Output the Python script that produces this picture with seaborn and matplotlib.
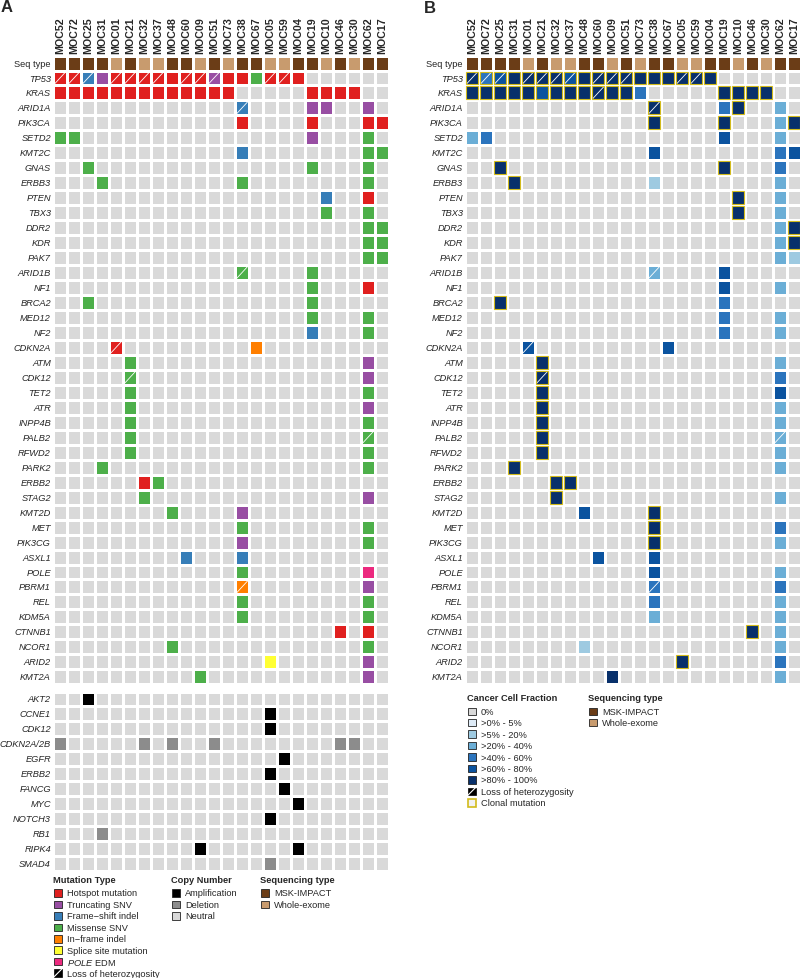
import pandas as pd
import seaborn as sns
import matplotlib.pyplot as plt
from matplotlib.colors import ListedColormap
from matplotlib.patches import Rectangle

samples = ['MOC52', 'MOC72', 'MOC25', 'MOC31', 'MOC01', 'MOC21', 'MOC32', 'MOC37',
           'MOC48', 'MOC60', 'MOC09', 'MOC51', 'MOC73', 'MOC38', 'MOC67', 'MOC05',
           'MOC59', 'MOC04', 'MOC19', 'MOC10', 'MOC46', 'MOC30', 'MOC62', 'MOC17']

# sequencing type per sample (groups of four): M = MSK-IMPACT, W = whole-exome
seq_type = 'MMMM WMWW MMWM WMMW WMMW MWMM'

genes = ['TP53', 'KRAS', 'ARID1A', 'PIK3CA', 'SETD2', 'KMT2C', 'GNAS', 'ERBB3', 'PTEN',
         'TBX3', 'DDR2', 'KDR', 'PAK7', 'ARID1B', 'NF1', 'BRCA2', 'MED12', 'NF2', 'CDKN2A',
         'ATM', 'CDK12', 'TET2', 'ATR', 'INPP4B', 'PALB2', 'RFWD2', 'PARK2', 'ERBB2', 'STAG2',
         'KMT2D', 'MET', 'PIK3CG', 'ASXL1', 'POLE', 'PBRM1', 'REL', 'KDM5A', 'CTNNB1',
         'NCOR1', 'ARID2', 'KMT2A']

# panel A mutations: H hotspot, T truncating, F frame-shift, M missense, I in-frame,
# S splice site, P POLE EDM; lower case = plus loss of heterozygosity
mut_a = {
    'TP53':   'hhfT hhhh Hhht HHMh hH.. ....',
    'KRAS':   'HHHH HHHH HHHH H... ..HH HH..',
    'ARID1A': '.... .... .... .f.. ..TT ..T.',
    'PIK3CA': '.... .... .... .H.. ..H. ..HH',
    'SETD2':  'MM.. .... .... .... ..T. ..M.',
    'KMT2C':  '.... .... .... .F.. .... ..MM',
    'GNAS':   '..M. .... .... .... ..M. ..M.',
    'ERBB3':  '...M .... .... .M.. .... ..M.',
    'PTEN':   '.... .... .... .... ...F ..H.',
    'TBX3':   '.... .... .... .... ...M ..M.',
    'DDR2':   '.... .... .... .... .... ..MM',
    'KDR':    '.... .... .... .... .... ..MM',
    'PAK7':   '.... .... .... .... .... ..MM',
    'ARID1B': '.... .... .... .m.. ..M. ....',
    'NF1':    '.... .... .... .... ..M. ..H.',
    'BRCA2':  '..M. .... .... .... ..M. ....',
    'MED12':  '.... .... .... .... ..M. ..M.',
    'NF2':    '.... .... .... .... ..F. ..M.',
    'CDKN2A': '.... h... .... ..I. .... ....',
    'ATM':    '.... .M.. .... .... .... ..T.',
    'CDK12':  '.... .m.. .... .... .... ..T.',
    'TET2':   '.... .M.. .... .... .... ..M.',
    'ATR':    '.... .M.. .... .... .... ..T.',
    'INPP4B': '.... .M.. .... .... .... ..M.',
    'PALB2':  '.... .M.. .... .... .... ..m.',
    'RFWD2':  '.... .M.. .... .... .... ..M.',
    'PARK2':  '...M .... .... .... .... ..M.',
    'ERBB2':  '.... ..HM .... .... .... ....',
    'STAG2':  '.... ..M. .... .... .... ..T.',
    'KMT2D':  '.... .... M... .T.. .... ....',
    'MET':    '.... .... .... .M.. .... ..M.',
    'PIK3CG': '.... .... .... .T.. .... ..M.',
    'ASXL1':  '.... .... .F.. .F.. .... ....',
    'POLE':   '.... .... .... .M.. .... ..P.',
    'PBRM1':  '.... .... .... .i.. .... ..T.',
    'REL':    '.... .... .... .M.. .... ..M.',
    'KDM5A':  '.... .... .... .M.. .... ..M.',
    'CTNNB1': '.... .... .... .... .... H.H.',
    'NCOR1':  '.... .... M... .... .... ..M.',
    'ARID2':  '.... .... .... ...S .... ..T.',
    'KMT2A':  '.... .... ..M. .... .... ..T.',
}

cna_genes = ['AKT2', 'CCNE1', 'CDK12', 'CDKN2A/2B', 'EGFR', 'ERBB2', 'FANCG', 'MYC',
             'NOTCH3', 'RB1', 'RIPK4', 'SMAD4']
# A amplification, D deletion
cna_a = {
    'AKT2':      '..A. .... .... .... .... ....',
    'CCNE1':     '.... .... .... ...A .... ....',
    'CDK12':     '.... .... .... ...A .... ....',
    'CDKN2A/2B': 'D... ..D. D..D .... .... DD..',
    'EGFR':      '.... .... .... .... A... ....',
    'ERBB2':     '.... .... .... ...A .... ....',
    'FANCG':     '.... .... .... .... A... ....',
    'MYC':       '.... .... .... .... .A.. ....',
    'NOTCH3':    '.... .... .... ...A .... ....',
    'RB1':       '...D .... .... .... .... ....',
    'RIPK4':     '.... .... ..A. .... .A.. ....',
    'SMAD4':     '.... .... .... ...D .... ....',
}

# panel B cancer cell fraction bin (1..6 = >0-5%, >5-20%, >20-40%, >40-60%, >60-80%, >80-100%)
ccf_b = {
    'TP53':   '6456 6665 6666 6666 66.. ....',
    'KRAS':   '6666 6566 6666 4... ..66 66..',
    'ARID1A': '.... .... .... .6.. ..46 ..3.',
    'PIK3CA': '.... .... .... .6.. ..6. ..36',
    'SETD2':  '34.. .... .... .... ..5. ..3.',
    'KMT2C':  '.... .... .... .5.. .... ..45',
    'GNAS':   '..6. .... .... .... ..6. ..4.',
    'ERBB3':  '...6 .... .... .2.. .... ..3.',
    'PTEN':   '.... .... .... .... ...6 ..3.',
    'TBX3':   '.... .... .... .... ...6 ..3.',
    'DDR2':   '.... .... .... .... .... ..36',
    'KDR':    '.... .... .... .... .... ..36',
    'PAK7':   '.... .... .... .... .... ..32',
    'ARID1B': '.... .... .... .3.. ..5. ....',
    'NF1':    '.... .... .... .... ..5. ..3.',
    'BRCA2':  '..6. .... .... .... ..4. ....',
    'MED12':  '.... .... .... .... ..4. ..3.',
    'NF2':    '.... .... .... .... ..4. ..3.',
    'CDKN2A': '.... 5... .... ..5. .... ....',
    'ATM':    '.... .6.. .... .... .... ..3.',
    'CDK12':  '.... .6.. .... .... .... ..4.',
    'TET2':   '.... .6.. .... .... .... ..5.',
    'ATR':    '.... .6.. .... .... .... ..3.',
    'INPP4B': '.... .6.. .... .... .... ..3.',
    'PALB2':  '.... .6.. .... .... .... ..3.',
    'RFWD2':  '.... .6.. .... .... .... ..3.',
    'PARK2':  '...6 .... .... .... .... ..3.',
    'ERBB2':  '.... ..66 .... .... .... ....',
    'STAG2':  '.... ..6. .... .... .... ..3.',
    'KMT2D':  '.... .... 5... .6.. .... ....',
    'MET':    '.... .... .... .6.. .... ..4.',
    'PIK3CG': '.... .... .... .6.. .... ..3.',
    'ASXL1':  '.... .... .5.. .5.. .... ....',
    'POLE':   '.... .... .... .5.. .... ..3.',
    'PBRM1':  '.... .... .... .4.. .... ..4.',
    'REL':    '.... .... .... .4.. .... ..3.',
    'KDM5A':  '.... .... .... .3.. .... ..3.',
    'CTNNB1': '.... .... .... .... .... 6.3.',
    'NCOR1':  '.... .... 2... .... .... ..3.',
    'ARID2':  '.... .... .... ...6 .... ..4.',
    'KMT2A':  '.... .... ..6. .... .... ..3.',
}

# clonal mutations in panel B
clonal_b = {
    'TP53':   'cccc cccc cccc cccc cc.. ....',
    'KRAS':   'cccc cccc cccc .... ..cc cc..',
    'ARID1A': '.... .... .... .c.. ...c ....',
    'PIK3CA': '.... .... .... .c.. ..c. ...c',
    'GNAS':   '..c. .... .... .... ..c. ....',
    'ERBB3':  '...c .... .... .... .... ....',
    'PTEN':   '.... .... .... .... ...c ....',
    'TBX3':   '.... .... .... .... ...c ....',
    'DDR2':   '.... .... .... .... .... ...c',
    'KDR':    '.... .... .... .... .... ...c',
    'BRCA2':  '..c. .... .... .... .... ....',
    'ATM':    '.... .c.. .... .... .... ....',
    'CDK12':  '.... .c.. .... .... .... ....',
    'TET2':   '.... .c.. .... .... .... ....',
    'ATR':    '.... .c.. .... .... .... ....',
    'INPP4B': '.... .c.. .... .... .... ....',
    'PALB2':  '.... .c.. .... .... .... ....',
    'RFWD2':  '.... .c.. .... .... .... ....',
    'PARK2':  '...c .... .... .... .... ....',
    'ERBB2':  '.... ..cc .... .... .... ....',
    'STAG2':  '.... ..c. .... .... .... ....',
    'KMT2D':  '.... .... .... .c.. .... ....',
    'MET':    '.... .... .... .c.. .... ....',
    'PIK3CG': '.... .... .... .c.. .... ....',
    'CTNNB1': '.... .... .... .... .... c...',
    'ARID2':  '.... .... .... ...c .... ....',
}

loh_b = {
    'TP53': ['MOC52', 'MOC72', 'MOC25', 'MOC01', 'MOC21', 'MOC32', 'MOC37', 'MOC60',
             'MOC09', 'MOC51', 'MOC05', 'MOC59'],
    'KRAS': ['MOC60'],
    'ARID1A': ['MOC38'],
    'ARID1B': ['MOC38'],
    'CDKN2A': ['MOC01'],
    'CDK12': ['MOC21'],
    'PALB2': ['MOC62'],
    'PBRM1': ['MOC38'],
}

mut_labels = ['Hotspot mutation', 'Truncating SNV', 'Frame\u2212shift indel', 'Missense SNV',
              'In\u2212frame indel', 'Splice site mutation', r'$\mathit{POLE}$ EDM']
ccf_labels = ['0%', '>0% - 5%', '>5% - 20%', '>20% - 40%', '>40% - 60%', '>60% - 80%',
              '>80% - 100%']

NEUTRAL = '#d9d9d9'
MSK, WES = '#6b3d17', '#c89b6e'
mut_colors = ['#e0201f', '#984ea3', '#377eb8', '#4daf4a', '#ff7f00', '#ffff33', '#ec2a7f']
cna_colors = ['#000000', '#8c8c8c']
ccf_colors = ['#deebf7', '#9ecae1', '#6baed6', '#2b74bd', '#0b539f', '#08306b']
CLONAL = '#d2bb1c'


def split(s):
    s = s.replace(' ', '')
    assert len(s) == len(samples)
    return list(s)


sns.set_style('white')
plt.rcParams['font.family'] = ['Liberation Sans', 'DejaVu Sans']
plt.rcParams['mathtext.fontset'] = 'custom'
plt.rcParams['mathtext.it'] = 'Liberation Sans:italic'
plt.rcParams['mathtext.rm'] = 'Liberation Sans'

W, H = 800, 979
fig = plt.figure(figsize=(W / 100, H / 100), dpi=100)

ROW, COL = 14.97, 14.0
GAP = 1.8
gx = GAP * 100 / 72 / 2 / COL
gy = GAP * 100 / 72 / 2 / ROW


def px_axes(left, top, width, height):
    return fig.add_axes([left / W, 1 - (top + height) / H, width / W, height / H])


def grid(ax, df, colors, top_labels):
    sns.heatmap(df, ax=ax, cmap=ListedColormap(colors), vmin=-0.5, vmax=len(colors) - 0.5,
                cbar=False, linewidths=GAP, linecolor='white',
                xticklabels=top_labels, yticklabels=True)
    ax.set_xlabel('')
    ax.set_ylabel('')
    ax.tick_params(length=0, pad=1.5)
    if top_labels:
        ax.xaxis.tick_top()
        plt.setp(ax.get_xticklabels(), rotation=90, fontsize=7.7, fontweight='bold')
    plt.setp(ax.get_yticklabels(), rotation=0, fontsize=6.7)
    for lab in ax.get_yticklabels():
        if lab.get_text() != 'Seq type':
            lab.set_style('italic')


def slash(ax, i, j):
    ax.plot([j + gx, j + 1 - gx], [i + 1 - gy, i + gy], color='white', lw=0.6,
            solid_capstyle='butt')


seq_row = split(seq_type)

# ---- panel A ----
mut_code = {'.': 0, 'H': 1, 'T': 2, 'F': 3, 'M': 4, 'I': 5, 'S': 6, 'P': 7}
rows_a = [[8 if c == 'M' else 9 for c in seq_row]]
loh_a = []
for i, g in enumerate(genes):
    cells = split(mut_a[g])
    rows_a.append([mut_code[c.upper()] for c in cells])
    loh_a += [(i + 1, j) for j, c in enumerate(cells) if c.islower()]
df_a = pd.DataFrame(rows_a, index=['Seq type'] + genes, columns=samples)

top = 79 - ROW * 1.5
ax_a = px_axes(53, top, COL * len(samples), ROW * len(df_a))
grid(ax_a, df_a, [NEUTRAL] + mut_colors + [MSK, WES], True)
for i, j in loh_a:
    slash(ax_a, i, j)

cna_code = {'.': 0, 'A': 1, 'D': 2}
df_cna = pd.DataFrame([[cna_code[c] for c in split(cna_a[g])] for g in cna_genes],
                      index=cna_genes, columns=samples)
ax_c = px_axes(53, 700 - ROW / 2, COL * len(samples), ROW * len(cna_genes))
grid(ax_c, df_cna, [NEUTRAL] + cna_colors, False)

# ---- panel B ----
rows_b = [[7 if c == 'M' else 8 for c in seq_row]]
for g in genes:
    rows_b.append([0 if c == '.' else int(c) for c in split(ccf_b[g])])
df_b = pd.DataFrame(rows_b, index=['Seq type'] + genes, columns=samples)

ax_b = px_axes(465, top, COL * len(samples), ROW * len(df_b))
grid(ax_b, df_b, [NEUTRAL] + ccf_colors + [MSK, WES], True)
for g, lst in loh_b.items():
    for s in lst:
        slash(ax_b, genes.index(g) + 1, samples.index(s))
for g, s in clonal_b.items():
    i = genes.index(g) + 1
    for j, c in enumerate(split(s)):
        if c == 'c':
            ax_b.add_patch(Rectangle((j + gx * 0.8, i + gy * 0.8), 1 - 1.6 * gx, 1 - 1.6 * gy,
                                     fill=False, edgecolor=CLONAL, lw=0.8, zorder=3))

# ---- legends and panel letters ----
lg = fig.add_axes([0, 0, 1, 1])
lg.set_xlim(0, W)
lg.set_ylim(H, 0)
lg.axis('off')


def legend_block(x, y, title, entries, step=11.45):
    lg.text(x, y, title, fontsize=6.7, fontweight='bold', va='center')
    for k, (label, face) in enumerate(entries):
        yy = y + 13.3 + k * step
        if face == 'loh':
            lg.add_patch(Rectangle((x + 1, yy - 3.8), 7.5, 7.5, facecolor='black',
                                   edgecolor='black', lw=0.5))
            lg.plot([x + 1, x + 8.5], [yy + 3.7, yy - 3.8], color='white', lw=0.8)
        elif face == 'clonal':
            lg.add_patch(Rectangle((x + 1, yy - 3.8), 7.5, 7.5, facecolor='#f2f2f2',
                                   edgecolor=CLONAL, lw=1.2))
        else:
            lg.add_patch(Rectangle((x + 1, yy - 3.8), 7.5, 7.5, facecolor=face,
                                   edgecolor='#222222', lw=0.6))
        lg.text(x + 14, yy, label, fontsize=6.7, va='center')


legend_block(53, 880.7, 'Mutation Type',
             list(zip(mut_labels, mut_colors)) + [('Loss of heterozygosity', 'loh')])
legend_block(171, 880.7, 'Copy Number',
             list(zip(['Amplification', 'Deletion', 'Neutral'], cna_colors + [NEUTRAL])))
legend_block(260, 880.7, 'Sequencing type', [('MSK-IMPACT', MSK), ('Whole-exome', WES)])

legend_block(467, 699, 'Cancer Cell Fraction',
             list(zip(ccf_labels, [NEUTRAL] + ccf_colors))
             + [('Loss of heterozygosity', 'loh'), ('Clonal mutation', 'clonal')])
legend_block(588, 699, 'Sequencing type', [('MSK-IMPACT', MSK), ('Whole-exome', WES)])

lg.text(1, 0, 'A', fontsize=12, fontweight='bold', va='top')
lg.text(424, 1, 'B', fontsize=12, fontweight='bold', va='top')

fig.savefig('out.png', dpi=100)
